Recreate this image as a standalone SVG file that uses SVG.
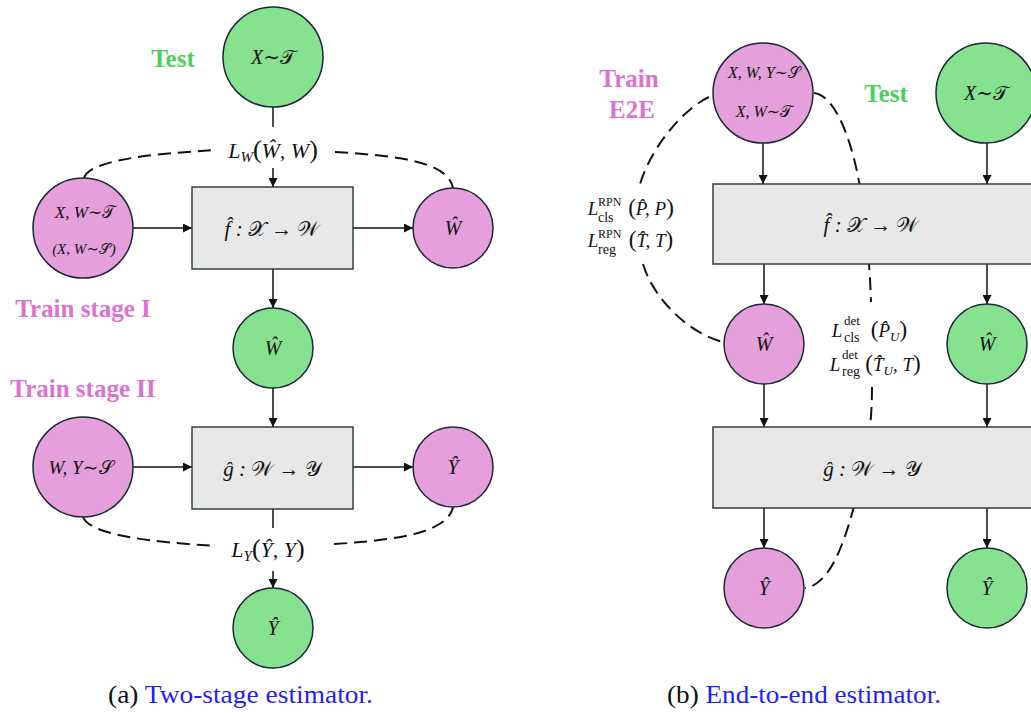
<svg xmlns="http://www.w3.org/2000/svg" width="1031" height="713" viewBox="0 0 1031 713">
<defs>
<marker id="arr" viewBox="0 0 10 10" refX="10" refY="5" markerWidth="9" markerHeight="9" markerUnits="userSpaceOnUse" orient="auto">
<path d="M0,0 L10,5 L0,10 z" fill="#111"/>
</marker>
<style>
.bg{fill:#fff}
.gc{fill:#86E28F;stroke:#1b2838;stroke-width:1.5}
.pc{fill:#E59FDB;stroke:#1b2838;stroke-width:1.5}
.box{fill:#E8E8E8;stroke:#2E3F4A;stroke-width:1.5}
.ln{stroke:#111;stroke-width:1.5;fill:none}
.ar{stroke:#111;stroke-width:1.5;fill:none;marker-end:url(#arr)}
.dash{stroke:#111;stroke-width:2;fill:none;stroke-dasharray:13 7}
.m{font-family:"Liberation Serif","DejaVu Serif",serif;font-style:italic;fill:#111;text-anchor:middle}
.s{font-style:normal;font-weight:normal}
.r{font-family:"Liberation Serif","DejaVu Serif",serif;fill:#111}
.test{font-family:"Liberation Serif","DejaVu Serif",serif;font-weight:bold;font-size:25px;fill:#4CCF5C;text-anchor:middle}
.train{font-family:"Liberation Serif","DejaVu Serif",serif;font-weight:bold;font-size:25px;fill:#DB72D2;text-anchor:middle}
.cap{font-family:"Liberation Serif","DejaVu Serif",serif;font-size:25px;fill:#111}
.blue{fill:#1F1FF0}
</style>
</defs>
<rect class="bg" x="0" y="0" width="1031" height="713"/>

<g id="connectors">
<line class="ln" x1="273" y1="107" x2="273" y2="127"/>
<line class="ar" x1="273" y1="168" x2="273" y2="187"/>
<line class="ar" x1="133" y1="228" x2="192" y2="228"/>
<line class="ar" x1="353" y1="228" x2="413" y2="228"/>
<line class="ar" x1="273" y1="269" x2="273" y2="308"/>
<line class="ar" x1="273" y1="388" x2="273" y2="427"/>
<line class="ar" x1="133" y1="467" x2="192" y2="467"/>
<line class="ar" x1="353" y1="467" x2="413" y2="467"/>
<line class="ln" x1="273" y1="509" x2="273" y2="528"/>
<line class="ar" x1="273" y1="571" x2="273" y2="588"/>
<path class="dash" d="M84,178 C90,160 150,154 216,150"/>
<path class="dash" d="M335,152 C400,156 448,162 453,188"/>
<path class="dash" d="M83,517 C90,535 150,542 216,546"/>
<path class="dash" d="M334,544 C400,540 448,532 453,507"/>
<line class="ar" x1="763" y1="143" x2="763" y2="184"/>
<line class="ar" x1="987" y1="143" x2="987" y2="184"/>
<line class="ar" x1="764" y1="264" x2="764" y2="304"/>
<line class="ar" x1="987" y1="264" x2="987" y2="304"/>
<line class="ar" x1="764" y1="384" x2="764" y2="427"/>
<line class="ar" x1="987" y1="384" x2="987" y2="427"/>
<line class="ar" x1="764" y1="508" x2="764" y2="548"/>
<line class="ar" x1="987" y1="508" x2="987" y2="548"/>
<path class="dash" d="M709,97 C685,108 652,145 640,184"/>
<path class="dash" d="M643,264 C652,295 685,332 723,342"/>
<path class="dash" d="M814,93 C838,96 855,150 862,200 C866,230 870,265 871,302"/>
<path class="dash" d="M872,387 C872,440 862,480 853,510 C842,550 828,585 805,588"/>
</g>

<g id="label-test-a"><text class="test" x="173" y="67">Test</text></g>
<g id="label-train1"><text class="train" x="83" y="317">Train stage I</text></g>
<g id="label-train2"><text class="train" x="83" y="397">Train stage II</text></g>

<g id="node-xt-a">
<circle class="gc" cx="273" cy="57" r="50"/>
<text class="m" x="273" y="64" font-size="20">X∼<tspan class="s">𝒯</tspan></text>
</g>
<g id="loss-w">
<text class="m" x="273" y="158" font-size="22">L<tspan font-size="15" dy="4">W</tspan><tspan dy="-4" font-size="26" font-style="normal">(</tspan>Ŵ, W<tspan font-size="26" font-style="normal">)</tspan></text>
</g>
<g id="node-xw-a">
<circle class="pc" cx="83" cy="228" r="50"/>
<text class="m" x="85" y="218" font-size="17">X, W∼<tspan class="s">𝒯</tspan></text>
<text class="m" x="84" y="254" font-size="15">(X, W∼<tspan class="s">𝒮</tspan>)</text>
</g>
<g id="box-f-a">
<rect class="box" x="192" y="187" width="161" height="82"/>
<text class="m" x="272" y="236" font-size="21">f̂ : <tspan class="s">𝒳</tspan> → <tspan class="s">𝒲</tspan></text>
</g>
<g id="node-what-a">
<circle class="pc" cx="453" cy="228" r="40"/>
<text class="m" x="453" y="235" font-size="20">Ŵ</text>
</g>
<g id="node-what-g">
<circle class="gc" cx="273" cy="348" r="40"/>
<text class="m" x="273" y="355" font-size="20">Ŵ</text>
</g>
<g id="node-wys-a">
<circle class="pc" cx="83" cy="467" r="50"/>
<text class="m" x="81" y="474" font-size="19">W, Y∼<tspan class="s">𝒮</tspan></text>
</g>
<g id="box-g-a">
<rect class="box" x="192" y="427" width="161" height="82"/>
<text class="m" x="272" y="476" font-size="21">ĝ : <tspan class="s">𝒲</tspan> → <tspan class="s">𝒴</tspan></text>
</g>
<g id="node-yhat-a">
<circle class="pc" cx="453" cy="467" r="40"/>
<text class="m" x="453" y="474" font-size="20">Ŷ</text>
</g>
<g id="loss-y">
<text class="m" x="268" y="557" font-size="22">L<tspan font-size="15" dy="4">Y</tspan><tspan dy="-4" font-size="26" font-style="normal">(</tspan>Ŷ, Y<tspan font-size="26" font-style="normal">)</tspan></text>
</g>
<g id="node-yhat-g">
<circle class="gc" cx="273" cy="628" r="40"/>
<text class="m" x="273" y="635" font-size="20">Ŷ</text>
</g>

<g id="label-train-e2e">
<text class="train" x="629" y="87">Train</text>
<text class="train" x="632" y="118">E2E</text>
</g>
<g id="label-test-b"><text class="test" x="886" y="102">Test</text></g>
<g id="node-src-b">
<circle class="pc" cx="763" cy="93" r="50"/>
<text class="m" x="764" y="78" font-size="16">X, W, Y∼<tspan class="s">𝒮</tspan></text>
<text class="m" x="764" y="117" font-size="16">X, W∼<tspan class="s">𝒯</tspan></text>
</g>
<g id="node-xt-b">
<circle class="gc" cx="986" cy="93" r="50"/>
<text class="m" x="986" y="100" font-size="20">X∼<tspan class="s">𝒯</tspan></text>
</g>
<g id="box-f-b">
<rect class="box" x="713" y="184" width="330" height="80"/>
<text class="m" x="871" y="232" font-size="21">f̂ : <tspan class="s">𝒳</tspan> → <tspan class="s">𝒲</tspan></text>
</g>
<g id="loss-rpn">
<text class="m" x="593" y="215" font-size="19">L</text>
<text class="r" x="598" y="206" font-size="12">RPN</text>
<text class="r" x="598" y="222" font-size="14">cls</text>
<text class="m" x="651" y="215" font-size="19"><tspan font-style="normal" font-size="23">(</tspan>P̂, P<tspan font-style="normal" font-size="23">)</tspan></text>
<text class="m" x="593" y="247" font-size="19">L</text>
<text class="r" x="598" y="238" font-size="12">RPN</text>
<text class="r" x="598" y="254" font-size="14">reg</text>
<text class="m" x="651" y="247" font-size="19"><tspan font-style="normal" font-size="23">(</tspan>T̂, T<tspan font-style="normal" font-size="23">)</tspan></text>
</g>
<g id="node-what-b1">
<circle class="pc" cx="764" cy="344" r="40"/>
<text class="m" x="764" y="351" font-size="20">Ŵ</text>
</g>
<g id="node-what-b2">
<circle class="gc" cx="987" cy="344" r="40"/>
<text class="m" x="987" y="351" font-size="20">Ŵ</text>
</g>
<g id="loss-det">
<text class="m" x="837" y="337" font-size="19">L</text>
<text class="r" x="844" y="325" font-size="13">det</text>
<text class="r" x="844" y="342" font-size="14">cls</text>
<text class="m" x="889" y="337" font-size="19"><tspan font-style="normal" font-size="23">(</tspan>P̂<tspan font-size="13" dy="4">U</tspan><tspan dy="-4" font-style="normal" font-size="23">)</tspan></text>
<text class="m" x="835" y="371" font-size="19">L</text>
<text class="r" x="842" y="359" font-size="13">det</text>
<text class="r" x="842" y="376" font-size="14">reg</text>
<text class="m" x="893" y="371" font-size="19"><tspan font-style="normal" font-size="23">(</tspan>T̂<tspan font-size="13" dy="4">U</tspan><tspan dy="-4">, T</tspan><tspan font-style="normal" font-size="23">)</tspan></text>
</g>
<g id="box-g-b">
<rect class="box" x="713" y="427" width="330" height="81"/>
<text class="m" x="872" y="476" font-size="21">ĝ : <tspan class="s">𝒲</tspan> → <tspan class="s">𝒴</tspan></text>
</g>
<g id="node-yhat-b1">
<circle class="pc" cx="764" cy="588" r="40"/>
<text class="m" x="764" y="595" font-size="20">Ŷ</text>
</g>
<g id="node-yhat-b2">
<circle class="gc" cx="987" cy="588" r="40"/>
<text class="m" x="987" y="595" font-size="20">Ŷ</text>
</g>

<g id="captions">
<text class="cap" x="108" y="703" textLength="265" lengthAdjust="spacingAndGlyphs">(a) <tspan class="blue">Two-stage estimator.</tspan></text>
<text class="cap" x="667" y="703" textLength="274" lengthAdjust="spacingAndGlyphs">(b) <tspan class="blue">End-to-end estimator.</tspan></text>
</g>
</svg>
